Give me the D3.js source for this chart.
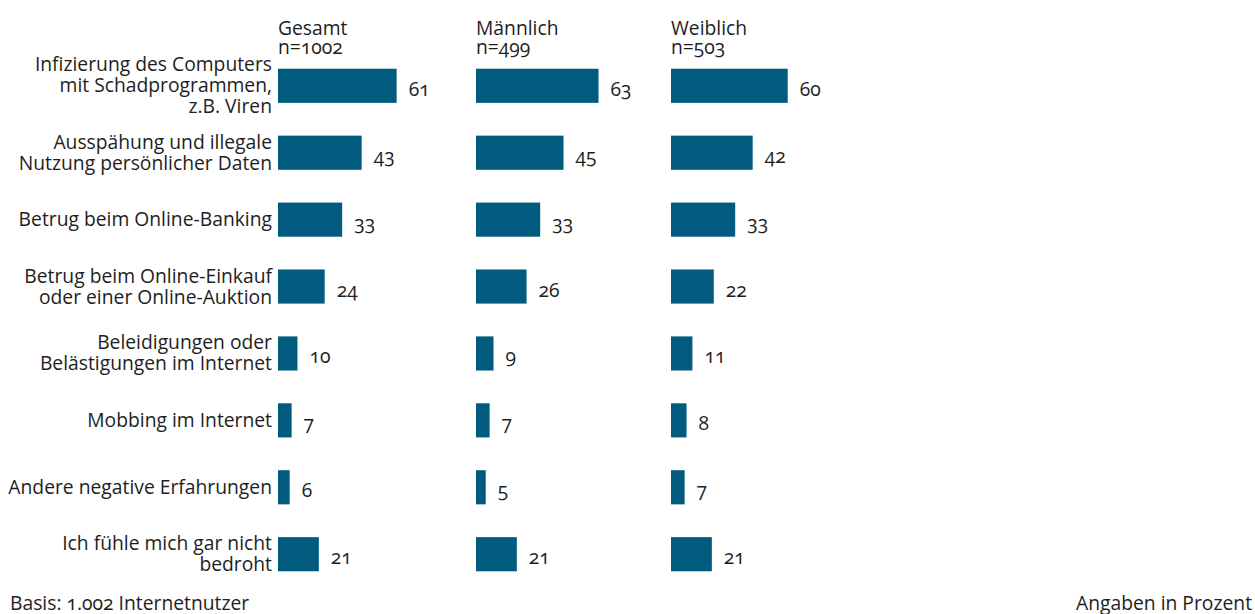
<!DOCTYPE html>
<html><head><meta charset="utf-8">
<script src="https://cdn.jsdelivr.net/npm/d3@7"></script>
<style>
body{margin:0;background:#fff;}
svg text{font-family:"Open Sans",sans-serif;fill:#1e1e1e;font-feature-settings:"onum";}
</style></head>
<body><svg id="c" width="1255" height="614"></svg>
<script>
const categories = [
  ["Infizierung des Computers","mit Schadprogrammen,","z.B. Viren"],
  ["Ausspähung und illegale","Nutzung persönlicher Daten"],
  ["Betrug beim Online-Banking"],
  ["Betrug beim Online-Einkauf","oder einer Online-Auktion"],
  ["Beleidigungen oder","Belästigungen im Internet"],
  ["Mobbing im Internet"],
  ["Andere negative Erfahrungen"],
  ["Ich fühle mich gar nicht","bedroht"]
];
const groups = ["Gesamt","Männlich","Weiblich"];
const groupN = ["n=1002","n=499","n=503"];
const gesamt = [61,43,33,24,10,7,6,21];
const maennlich = [63,45,33,26,9,7,5,21];
const weiblich = [60,42,33,22,11,8,7,21];
const series = [gesamt, maennlich, weiblich];

const fs = 19.3;
const svg = d3.select("#c");
const color = "#005b7f";
const panelX = d3.scaleOrdinal().domain(groups).range([278,476,671]);
const x = d3.scaleLinear().domain([0,100]).range([0,194.5]);
const y = d3.scaleBand().domain(d3.range(categories.length)).range([52,588]).paddingInner(0.49).paddingOuter(0.25);

categories.forEach((lines,i)=>{
  const cy = y(i)+y.bandwidth()/2;
  const lh = 21;
  const t = svg.append("text").attr("text-anchor","end").attr("font-size",fs);
  lines.forEach((l,j)=>{
    t.append("tspan").attr("x",272)
     .attr("y", cy + (j-(lines.length-1)/2)*lh + 6.5).text(l);
  });
});

groups.forEach((g,k)=>{
  const px = panelX(g);
  svg.append("text").attr("x",px).attr("y",35).attr("font-size",fs).text(g);
  svg.append("text").attr("x",px).attr("y",54).attr("font-size",fs).text(groupN[k]);
  const gg = svg.append("g").attr("transform",`translate(${px},0)`);
  gg.selectAll("rect").data(series[k]).join("rect")
    .attr("x",0).attr("y",(d,i)=>y(i)).attr("height",y.bandwidth())
    .attr("width",d=>x(d)).attr("fill",color);
  gg.selectAll("text.v").data(series[k]).join("text").attr("class","v")
    .attr("x",d=>x(d)+12).attr("y",(d,i)=>y(i)+y.bandwidth()/2+10)
    .attr("font-size",fs).text(d=>d);
});

svg.append("text").attr("x",10).attr("y",610).attr("font-size",fs).text("Basis: 1.002 Internetnutzer");
svg.append("text").attr("x",1252).attr("y",610).attr("text-anchor","end").attr("font-size",fs).text("Angaben in Prozent");
</script></body></html>
